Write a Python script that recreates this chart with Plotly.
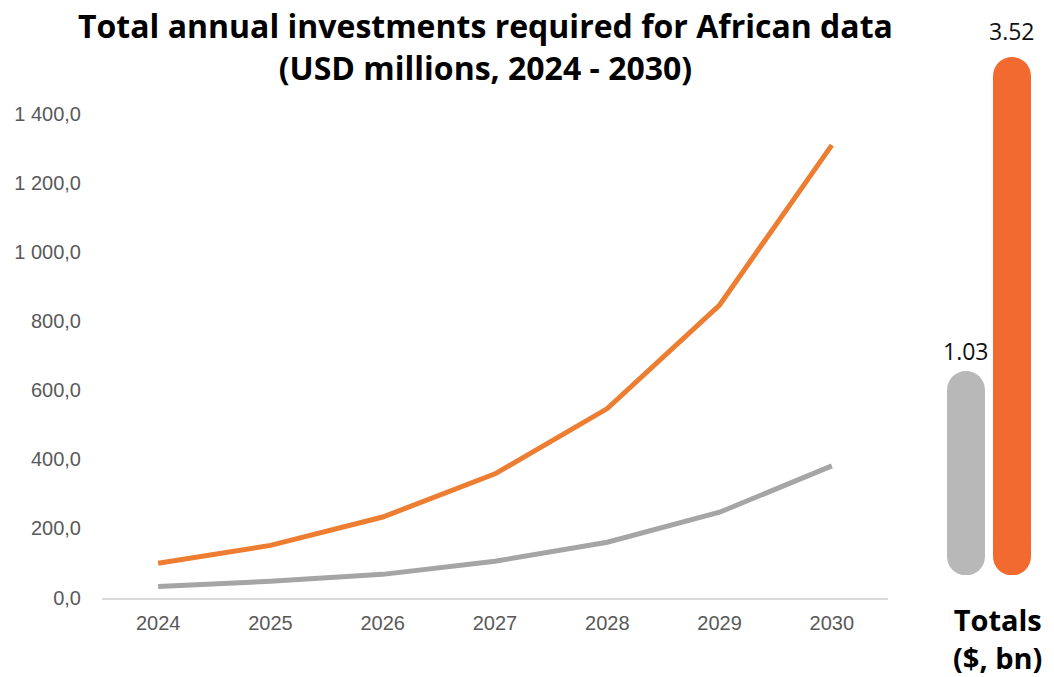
import plotly.graph_objects as go

years = ["2024", "2025", "2026", "2027", "2028", "2029", "2030"]
orange_series = [99, 151, 233, 358, 547, 847, 1310]
grey_series = [32, 47, 67, 105, 160, 247, 381]
y_ticks = [0, 200, 400, 600, 800, 1000, 1200, 1400]

total_labels = ["grey", "orange"]
totals_bn = [1.03, 3.52]
total_text = ["1.03", "3.52"]

title_text = "<b>Total annual investments required for African data<br>(USD millions, 2024 - 2030)</b>"
totals_title = "<b>Totals<br>($, bn)</b>"

W, H = 1054, 677
def fx(px):
    return px / W
def fy(py):
    return (H - py) / H

ORANGE_LINE = "#ED7D31"
GREY_LINE = "#A5A5A5"
ORANGE_BAR = "#F26A30"
GREY_BAR = "#B8B8B8"
PILL_W = 38
pill_base = -0.29

fig = go.Figure()

fig.add_trace(go.Scatter(x=years, y=grey_series, mode="lines",
                         line=dict(color=GREY_LINE, width=5), xaxis="x", yaxis="y",
                         showlegend=False, hoverinfo="skip"))
fig.add_trace(go.Scatter(x=years, y=orange_series, mode="lines",
                         line=dict(color=ORANGE_LINE, width=5), xaxis="x", yaxis="y",
                         showlegend=False, hoverinfo="skip"))

for i, (lab, v) in enumerate(zip(total_labels, totals_bn)):
    col = GREY_BAR if lab == "grey" else ORANGE_BAR
    fig.add_trace(go.Scatter(x=[lab, lab], y=[pill_base, v], mode="lines+markers",
                             line=dict(color=col, width=PILL_W),
                             marker=dict(color=col, size=PILL_W, line=dict(width=0)),
                             xaxis="x2", yaxis="y2", showlegend=False, hoverinfo="skip"))
    fig.add_annotation(x=lab, y=v, xref="x2", yref="y2", text=total_text[i],
                       showarrow=False, yanchor="middle", yshift=PILL_W / 2 + 20 + (6 if lab == "orange" else 0),
                       font=dict(family="Open Sans", size=23, color="#111111"))

fig.add_annotation(x=fx(485), y=fy(47), xref="paper", yref="paper", text=title_text,
                   showarrow=False, xanchor="center", yanchor="middle",
                   font=dict(family="Open Sans", size=32, color="#000000"))
fig.add_annotation(x=fx(997), y=fy(638), xref="paper", yref="paper", text=totals_title,
                   showarrow=False, xanchor="center", yanchor="middle",
                   font=dict(family="Open Sans", size=29, color="#000000"))

fig.update_layout(
    width=W, height=H,
    margin=dict(l=0, r=0, t=0, b=0, pad=0, autoexpand=False),
    paper_bgcolor="white", plot_bgcolor="white",
    separators=", ",
    hovermode=False,
    xaxis=dict(domain=[fx(102), fx(888)], type="category", range=[-0.5, 6.5],
               showgrid=False, zeroline=False, showline=True, linecolor="#D9D9D9", linewidth=2,
               ticks="", ticklabelstandoff=6, automargin=False,
               tickfont=dict(family="Liberation Sans", size=20, color="#595959"),
               anchor="y"),
    yaxis=dict(domain=[fy(597.5), fy(114)], range=[0, 1400], tickvals=y_ticks,
               tickformat=",.1f", showgrid=False, zeroline=False, showline=False,
               ticks="", ticklabelstandoff=20, automargin=False,
               tickfont=dict(family="Liberation Sans", size=20, color="#595959"),
               anchor="x"),
    xaxis2=dict(domain=[fx(943), fx(1035)], type="category", range=[-0.5, 1.5],
                visible=False, anchor="y2", automargin=False),
    yaxis2=dict(domain=[fy(575), fy(57)], range=[-0.437, 3.671], visible=False, anchor="x2",
                automargin=False),
)

fig.write_html("out.html", config={"displayModeBar": False},
               post_script="document.body.style.margin='0';document.body.style.overflow='hidden';")
